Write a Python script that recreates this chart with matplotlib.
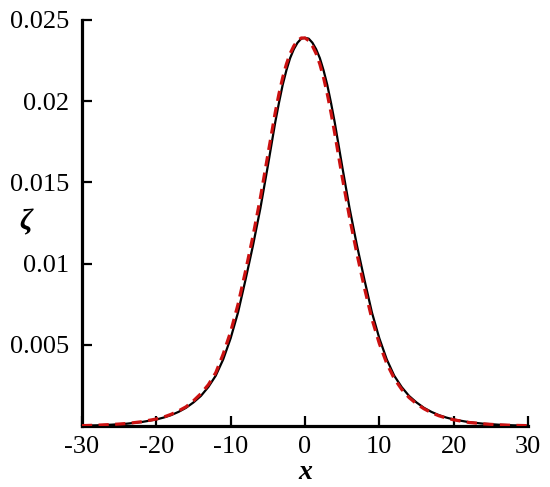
import matplotlib
matplotlib.use("Agg")
import matplotlib.pyplot as plt
import numpy as np

# values
x = [-30, -28, -26, -24, -22, -20, -19, -18, -17, -16, -15, -14, -13, -12, -11,
     -10, -9, -8, -7, -6, -5, -4, -3.5, -3, -2.5, -2, -1.5, -1, -0.5, 0,
     0.5, 1, 1.5, 2, 2.5, 3, 3.5, 4, 5, 6, 7, 8, 9, 10, 11, 12, 13, 14, 15,
     16, 17, 18, 19, 20, 22, 24, 26, 28, 30]

zeta_black = [0.00002, 0.00004, 0.00008, 0.00014, 0.00024, 0.00040, 0.00052,
              0.00067, 0.00087, 0.00112, 0.00145, 0.00185, 0.00240, 0.00310,
              0.00410, 0.00540, 0.00700, 0.00900, 0.01110, 0.01340, 0.01600,
              0.01870, 0.01990, 0.02100, 0.02190, 0.02265, 0.02320, 0.02360,
              0.02385, 0.02390,
              0.02385, 0.02360, 0.02320, 0.02265, 0.02190, 0.02100, 0.01990,
              0.01870, 0.01600, 0.01340, 0.01110, 0.00900, 0.00700, 0.00540,
              0.00410, 0.00310, 0.00240, 0.00185, 0.00145, 0.00112, 0.00087,
              0.00067, 0.00052, 0.00040, 0.00024, 0.00014, 0.00008, 0.00004,
              0.00002]

zeta_red = [0.00002, 0.00005, 0.00009, 0.00015, 0.00026, 0.00043, 0.00055,
            0.00072, 0.00093, 0.00118, 0.00155, 0.00199, 0.00254, 0.00328,
            0.00443, 0.00580, 0.00750, 0.00953, 0.01168, 0.01405, 0.01668,
            0.01930, 0.02045, 0.02145, 0.02228, 0.02293, 0.02340, 0.02373,
            0.02389, 0.02389,
            0.02373, 0.02340, 0.02293, 0.02228, 0.02145, 0.02045, 0.01930,
            0.01803, 0.01535, 0.01283, 0.01058, 0.00850, 0.00660, 0.00508,
            0.00385, 0.00293, 0.00226, 0.00175, 0.00137, 0.00106, 0.00082,
            0.00063, 0.00049, 0.00038, 0.00022, 0.00013, 0.00007, 0.00004,
            0.00002]

xticks = [-30, -20, -10, 0, 10, 20, 30]
yticks = [0.005, 0.01, 0.015, 0.02, 0.025]
ytick_labels = ["0.005", "0.01", "0.015", "0.02", "0.025"]

plt.rcParams['font.family'] = ['Liberation Serif', 'DejaVu Serif']

fig = plt.figure(figsize=(5.5, 4.87), dpi=100)
ax = fig.add_axes([0.149, 0.1253, 0.811, 0.8337])

ax.plot(x, zeta_black, color='black', lw=1.6, zorder=2)
ax.plot(x, zeta_red, color='#cc1111', lw=2.3, ls=(0, (3.2, 2.0)), zorder=3)

ax.set_xlim(-30, 30)
ax.set_ylim(0, 0.025)
ax.set_xticks(xticks)
ax.set_xticklabels([str(t) for t in xticks])
ax.set_yticks(yticks)
ax.set_yticklabels(ytick_labels)

for s in ['top', 'right']:
    ax.spines[s].set_visible(False)
for s in ['left', 'bottom']:
    ax.spines[s].set_linewidth(2.3)
    ax.spines[s].set_capstyle('projecting')

ax.tick_params(direction='in', length=7, width=1.6, labelsize=19)
ax.tick_params(axis='y', pad=9)
ax.tick_params(axis='x', pad=7)

ax.set_xlabel('x', fontsize=20, fontstyle='italic', fontweight='bold', labelpad=2)
ax.set_ylabel('ζ', fontsize=21, fontstyle='italic', fontweight='bold',
              rotation=0, labelpad=14)
ax.yaxis.set_label_coords(-0.125, 0.47)

fig.savefig('out.png', dpi=100)
